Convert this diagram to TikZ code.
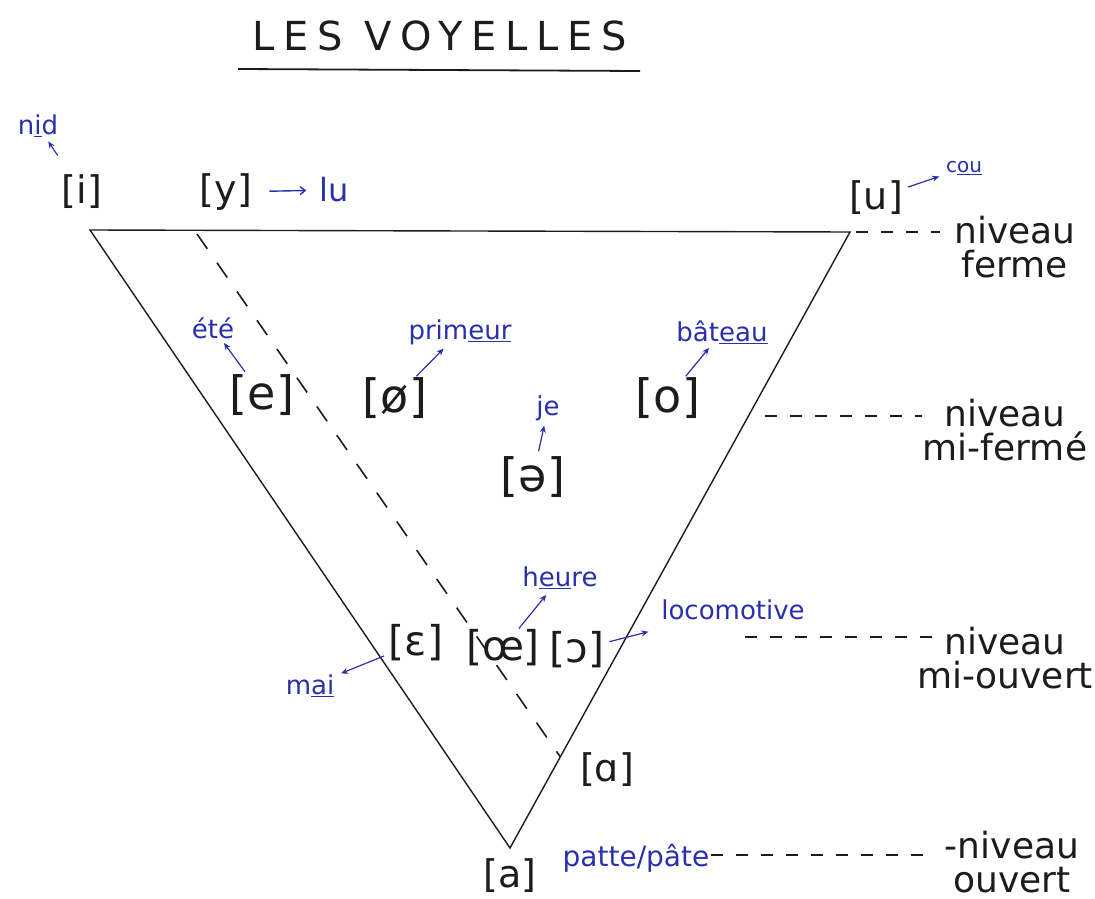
\documentclass[tikz,border=0pt]{standalone}
\usepackage{fontspec}
\setmainfont{DejaVu Sans}
\usetikzlibrary{calc,arrows.meta}
\definecolor{ink}{RGB}{28,28,28}
\definecolor{pen}{RGB}{42,48,172}
\begin{document}
\begin{tikzpicture}[x=1pt,y=-1pt,
  vowel/.style={font=\fontsize{46}{46}\selectfont, text=ink, inner sep=1pt},
  lowvowel/.style={font=\fontsize{41}{41}\selectfont, text=ink, inner sep=1pt},
  topvowel/.style={font=\fontsize{38}{38}\selectfont, text=ink, inner sep=1pt},
  word/.style={font=\fontsize{26}{26}\selectfont, text=pen, inner sep=1pt},
  lvl/.style={font=\fontsize{36}{34}\selectfont, text=ink, align=center, inner sep=1pt},
  arr/.style={pen, line width=1.2pt, -{Stealth[length=7pt,width=6pt]}},
  lvldash/.style={ink, line width=1.1pt, dash pattern=on 12pt off 13pt},
  side/.style={ink, line width=1.4pt},
  diag/.style={ink, line width=1.6pt, dash pattern=on 18pt off 17pt}]
\useasboundingbox (0,0) rectangle (1095,899);

% title
\node[font=\fontsize{40}{40}\selectfont\addfontfeature{LetterSpace=22}, text=ink, inner sep=0pt] (title) at (440,36) {LES VOYELLES};
\draw[ink, line width=1.8pt] (238,69) coordinate (ul1) -- (640,71) coordinate (ul2);

% triangle
\coordinate (TL) at (90,230);
\coordinate (TR) at (850,232);
\coordinate (B) at (510,848);
\draw[side] (TL) -- (TR) -- (B) -- cycle;
\coordinate (D0) at (197,234);
\coordinate (D1) at ($(TR)!0.852!(B)$);
\draw[diag] (D0) -- (D1);

% vowels
\node[topvowel] (i) at (82,192) {[i]};
\node[topvowel] (y) at (226,192) {[y]};
\node[topvowel] (u) at (876,198) {[u]};
\node[vowel] (e) at (262,395) {[e]};
\node[vowel] (phi) at (395,398) {[ø]};
\node[vowel] (schwa) at (533,477) {[ə]};
\node[vowel] (o) at (668,398) {[o]};
\node[lowvowel] (eps) at (416,643) {[ɛ]};
\node[lowvowel] (oe) at (503,648) {[œ]};
\node[lowvowel] (openo) at (577,650) {[ɔ]};
\node[topvowel] (alpha) at (607,770) {[ɑ]};
\node[topvowel] (a) at (510,876) {[a]};

% example words
\node[word] (nid) at (38,126) {n\underline{i}d};
\node[word, font=\fontsize{32}{32}\selectfont] (lu) at (334,190) {lu};
\node[word, font=\fontsize{20}{20}\selectfont] (cou) at (964,168) {c\underline{ou}};
\node[word] (ete) at (213,328) {été};
\node[word] (primeur) at (460,332) {prim\underline{eur}};
\node[word] (je) at (548,408) {je};
\node[word] (bateau) at (722,332) {bât\underline{eau}};
\node[word] (heure) at (560,578) {h\underline{eu}re};
\node[word] (loco) at (733,610) {locomotive};
\node[word] (mai) at (310,686) {m\underline{ai}};
\node[word, font=\fontsize{28}{28}\selectfont] (patte) at (636,858) {patte/pâte};

% small arrows
\draw[arr, shorten <=22pt, shorten >=4pt] (i) -- (nid);
\draw[pen, line width=1.4pt, -{Straight Barb[length=5pt,width=8pt]}, shorten <=16pt, shorten >=12pt] (y) -- (lu);
\draw[arr, shorten <=4pt, shorten >=6pt] (u) -- (cou);
\draw[arr, shorten <=2pt, shorten >=4pt] (e) -- (ete);
\draw[arr, shorten <=0pt, shorten >=4pt] (phi) -- (primeur);
\draw[arr, shorten <=4pt, shorten >=4pt] (schwa) -- (je);
\draw[arr, shorten <=0pt, shorten >=4pt] (o) -- (bateau);
\draw[arr, shorten <=0pt, shorten >=6pt] (oe) -- (heure);
\draw[arr, shorten <=4pt, shorten >=42pt] (openo) -- (loco);
\draw[arr, shorten <=4pt, shorten >=6pt] (eps) -- (mai);

% levels
\node[lvl] (l1) at (1015,247) {niveau\\ferme};
\node[lvl] (l2) at (1005,430) {niveau\\mi-fermé};
\node[lvl] (l3) at (1005,658) {niveau\\mi-ouvert};
\node[lvl] (l4) at (1012,862) {-niveau\\ouvert};
\coordinate (d1a) at (856,232); \coordinate (d1b) at (940,232);
\coordinate (d2a) at (765,416); \coordinate (d2b) at (922,416);
\coordinate (d3a) at (745,637); \coordinate (d3b) at (932,637);
\coordinate (d4b) at (930,855);
\draw[lvldash] (d1a) -- (d1b);
\draw[lvldash] (d2a) -- (d2b);
\draw[lvldash] (d3a) -- (d3b);
\draw[lvldash] (patte.east |- d4b) -- (d4b);
\end{tikzpicture}
\end{document}
